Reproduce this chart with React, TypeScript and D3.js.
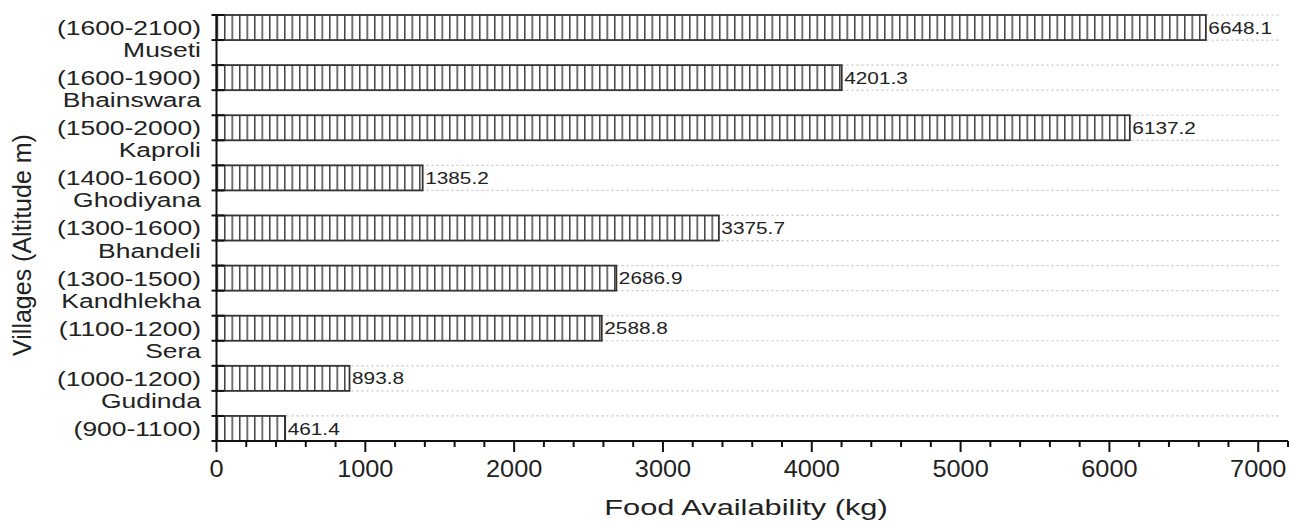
import React from "react";
import * as d3 from "d3";

// Village labels (name line above the altitude line), top to bottom
const villageNames = ["", "Museti", "Bhainswara", "Kaproli", "Ghodiyana", "Bhandeli", "Kandhlekha", "Sera", "Gudinda"];
const altitudes = ["(1600-2100)", "(1600-1900)", "(1500-2000)", "(1400-1600)", "(1300-1600)", "(1300-1500)", "(1100-1200)", "(1000-1200)", "(900-1100)"];
const foodKg = [6648.1, 4201.3, 6137.2, 1385.2, 3375.7, 2686.9, 2588.8, 893.8, 461.4];
const majorTicks = [0, 1000, 2000, 3000, 4000, 5000, 6000, 7000];

const W = 1293;
const H = 525;
const left = 216.5;
const right = 1288;
const top = 15;
const bottom = 441;
const FONT = "'Liberation Sans', Arial, Helvetica, sans-serif";
const INK = "#222";

export default function App() {
  const x = d3.scaleLinear().domain([0, 7200]).range([left, right]);
  const y = d3.scaleBand<string>().domain(altitudes).range([top, bottom]).paddingInner(0.5).paddingOuter(0);
  const bw = y.bandwidth();
  const minorTicks = d3.range(0, 7201, 200).filter((v) => v % 1000 !== 0);

  const yTickPos: number[] = [];
  altitudes.forEach((a) => {
    yTickPos.push(y(a)!, y(a)! + bw);
  });

  const stretched = (
    key: string,
    tx: number,
    ty: number,
    sx: number,
    size: number,
    anchor: "start" | "middle" | "end",
    label: string
  ) => (
    <text
      key={key}
      transform={`translate(${tx},${ty}) scale(${sx},1)`}
      fontFamily={FONT}
      fontSize={size}
      fill={INK}
      textAnchor={anchor}
      dominantBaseline="central"
    >
      {label}
    </text>
  );

  return (
    <svg width={W} height={H} style={{ position: "absolute", left: 0, top: 0, background: "#fff" }}>
      <defs>
        <pattern id="vhatch" patternUnits="userSpaceOnUse" width={7.5} height={10} x={left}>
          <rect width={7.5} height={10} fill="#fff" />
          <line x1={0.75} x2={0.75} y1={0} y2={10} stroke="#444" strokeWidth={1.5} />
        </pattern>
      </defs>

      {/* dotted gridlines at every band edge */}
      {yTickPos.map((p, i) => (
        <line key={`g${i}`} x1={left} x2={1281} y1={p} y2={p} stroke="#c4c4c4" strokeWidth={1.2} strokeDasharray="2,3" />
      ))}

      {/* bars */}
      {altitudes.map((a, i) => (
        <rect
          key={`b${i}`}
          x={x(0)}
          y={y(a)!}
          width={x(foodKg[i]) - x(0)}
          height={bw}
          fill="url(#vhatch)"
          stroke="#333"
          strokeWidth={1.8}
        />
      ))}

      {/* value labels */}
      {altitudes.map((a, i) =>
        stretched(`v${i}`, x(foodKg[i]) + 2.5, y(a)! + bw / 2 + 0.5, 1.3, 16, "start", foodKg[i].toFixed(1))
      )}

      {/* y axis */}
      <line x1={left} x2={left} y1={top - 1} y2={bottom} stroke="#111" strokeWidth={2} />
      {yTickPos.map((p, i) => (
        <line key={`yt${i}`} x1={left - 5} x2={left + 8} y1={p} y2={p} stroke="#111" strokeWidth={2} />
      ))}
      {altitudes.map((a, i) =>
        stretched(`alt${i}`, 201, y(a)! + bw / 2, 1.26, 21, "end", a)
      )}
      {villageNames.map((n, i) =>
        n ? stretched(`nm${i}`, 201, y(altitudes[i])! - bw / 2 - 3, 1.26, 21, "end", n) : null
      )}

      {/* x axis */}
      <line x1={left - 1} x2={right} y1={bottom} y2={bottom} stroke="#111" strokeWidth={2} />
      {majorTicks.map((t) => (
        <line key={`xt${t}`} x1={x(t)} x2={x(t)} y1={bottom} y2={bottom + 11} stroke="#111" strokeWidth={2} />
      ))}
      {minorTicks.map((t) => (
        <line key={`xm${t}`} x1={x(t)} x2={x(t)} y1={bottom} y2={bottom + 6} stroke="#111" strokeWidth={2} />
      ))}
      {majorTicks.map((t) => stretched(`xl${t}`, x(t), 468.5, 1.1, 23, "middle", String(t)))}

      {/* axis titles */}
      {stretched("xtitle", 746, 508, 1.4, 22, "middle", "Food Availability (kg)")}
      <text
        transform={`translate(22,245) rotate(-90)`}
        fontFamily={FONT}
        fontSize={25}
        fill={INK}
        textAnchor="middle"
        dominantBaseline="central"
      >
        Villages (Altitude m)
      </text>
    </svg>
  );
}
